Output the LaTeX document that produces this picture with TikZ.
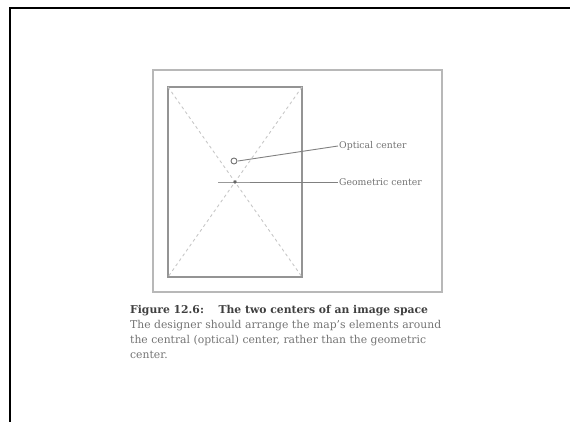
\documentclass[tikz,border=0pt]{standalone}
\usepackage{fontspec}
\setmainfont{DejaVu Serif}
\usetikzlibrary{positioning}

\begin{document}
\begin{tikzpicture}[x=1pt, y=-1pt,
    frame/.style={draw=black!28, line width=1.3pt},
    sheet/.style={draw=black!42, line width=1.3pt, minimum width=134pt, minimum height=190pt, inner sep=0pt, outer sep=0pt},
    diag/.style={draw=black!22, dashed, line width=0.9pt},
    leader/.style={draw=black!50, line width=0.9pt},
    tag/.style={text=black!55, font=\fontsize{9.3}{11}\selectfont, inner sep=1pt, anchor=west}]
    \useasboundingbox (0,0) rectangle (570,422);
    \draw[line width=2pt] (10,422) -- (10,8) -- (570,8);

    \draw[frame] (153,70) rectangle (442,292);
    \node[sheet] (map) at (235,182) {};
    \draw[diag] (map.north west) -- (map.south east);
    \draw[diag] (map.north east) -- (map.south west);

    \coordinate (geoc) at (map.center);
    \coordinate (optc) at (234,161);
    \draw[black!55, line width=0.9pt] (optc) circle (3pt);
    \draw[black!40, line width=0.6pt] ([xshift=-17pt]geoc) -- ([xshift=15pt]geoc);
    \fill[black!60] (geoc) circle (1.8pt);

    \node[tag] (optlbl) at (338,146) {Optical center};
    \node[tag] (geolbl) at (338,182) {Geometric center};
    \draw[leader] ([xshift=4pt]optc) -- (optlbl.west);
    \draw[leader] ([xshift=15pt]geoc) -- (geolbl.west);

    \node[anchor=north west, inner sep=0pt, align=left, text=black!55,
          font=\fontsize{10.8}{15}\selectfont] (caption) at (130,305) {
        {\color{black!75}\bfseries Figure 12.6:\quad\ The two centers of an image space}\\
        The designer should arrange the map's elements around\\
        the central (optical) center, rather than the geometric\\
        center.
    };
\end{tikzpicture}
\end{document}
